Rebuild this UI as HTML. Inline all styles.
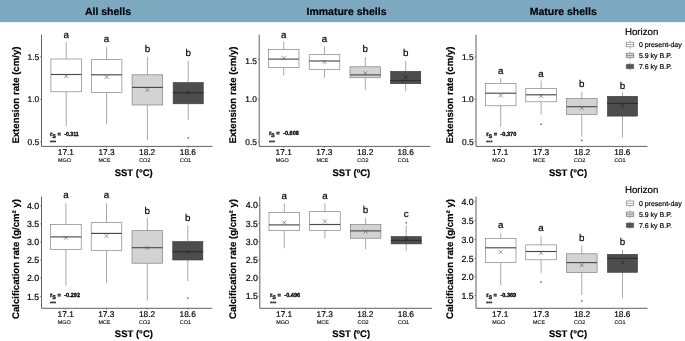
<!DOCTYPE html>
<html lang="en"><head><meta charset="utf-8"><title>Figure</title>
<style>html,body{margin:0;padding:0;background:#fff;}body{width:685px;height:341px;overflow:hidden;font-family:"Liberation Sans", sans-serif;}svg{display:block;will-change:transform;}text{font-family:"Liberation Sans", sans-serif;text-rendering:geometricPrecision;stroke:#000;stroke-width:0.18px;fill:#000;}text.t{stroke-width:0.1px;}text.u{stroke-width:0.3px;}</style>
</head><body>
<svg width="685" height="341" viewBox="0 0 685 341">
<rect x="0" y="0" width="685" height="341" fill="#ffffff"/>
<rect x="0" y="0" width="685" height="22.2" fill="#7ca8c0"/>
<text x="108.0" y="14.5" font-size="10.5" font-weight="bold" text-anchor="middle" fill="#000" stroke="#000" stroke-width="0.15">All shells</text>
<text x="346.5" y="14.5" font-size="10.5" font-weight="bold" text-anchor="middle" fill="#000" stroke="#000" stroke-width="0.15">Immature shells</text>
<text x="563.2" y="14.5" font-size="10.5" font-weight="bold" text-anchor="middle" fill="#000" stroke="#000" stroke-width="0.15">Mature shells</text>
<line x1="66.20" y1="41.80" x2="66.20" y2="58.70" stroke="#707070" stroke-width="0.6" transform="translate(0 0.30)"/>
<line x1="66.20" y1="91.50" x2="66.20" y2="125.80" stroke="#707070" stroke-width="0.6" transform="translate(0 0.30)"/>
<rect x="50.90" y="58.70" width="30.60" height="32.80" fill="#ffffff" stroke="#707070" stroke-width="0.6" transform="translate(0 0.30)"/>
<line x1="50.90" y1="74.20" x2="81.50" y2="74.20" stroke="#4a4a4a" stroke-width="1.15" transform="translate(0 0.30)"/>
<path class="x" d="M64.20 74.10L68.20 78.10M64.20 78.10L68.20 74.10" stroke="#555" stroke-width="0.6" fill="none"/>
<text x="66.20" y="37.90" font-size="9.8" text-anchor="middle" fill="#000">a</text>
<line x1="106.60" y1="46.40" x2="106.60" y2="59.40" stroke="#707070" stroke-width="0.6" transform="translate(0 0.30)"/>
<line x1="106.60" y1="92.10" x2="106.60" y2="123.90" stroke="#707070" stroke-width="0.6" transform="translate(0 0.30)"/>
<rect x="91.30" y="59.40" width="30.60" height="32.70" fill="#ffffff" stroke="#707070" stroke-width="0.6" transform="translate(0 0.30)"/>
<line x1="91.30" y1="74.50" x2="121.90" y2="74.50" stroke="#4a4a4a" stroke-width="1.15" transform="translate(0 0.30)"/>
<path class="x" d="M104.60 75.10L108.60 79.10M104.60 79.10L108.60 75.10" stroke="#555" stroke-width="0.6" fill="none"/>
<text x="106.60" y="42.30" font-size="9.8" text-anchor="middle" fill="#000">a</text>
<line x1="147.40" y1="56.50" x2="147.40" y2="74.50" stroke="#707070" stroke-width="0.6" transform="translate(0 0.30)"/>
<line x1="147.40" y1="104.70" x2="147.40" y2="140.00" stroke="#707070" stroke-width="0.6" transform="translate(0 0.30)"/>
<rect x="132.10" y="74.50" width="30.60" height="30.20" fill="#d3d3d3" stroke="#707070" stroke-width="0.6" transform="translate(0 0.30)"/>
<line x1="132.10" y1="87.10" x2="162.70" y2="87.10" stroke="#4a4a4a" stroke-width="1.15" transform="translate(0 0.30)"/>
<path class="x" d="M145.40 87.90L149.40 91.90M145.40 91.90L149.40 87.90" stroke="#555" stroke-width="0.6" fill="none"/>
<text x="147.40" y="51.90" font-size="9.8" text-anchor="middle" fill="#000">b</text>
<line x1="188.20" y1="60.70" x2="188.20" y2="82.20" stroke="#707070" stroke-width="0.6" transform="translate(0 0.30)"/>
<line x1="188.20" y1="103.50" x2="188.20" y2="119.80" stroke="#707070" stroke-width="0.6" transform="translate(0 0.30)"/>
<rect x="173.15" y="82.20" width="30.10" height="21.30" fill="#4d4d4d" stroke="#3a3a3a" stroke-width="0.6" transform="translate(0 0.30)"/>
<line x1="172.90" y1="92.40" x2="203.50" y2="92.40" stroke="#2e2e2e" stroke-width="1.15" transform="translate(0 0.30)"/>
<path class="x" d="M186.20 90.40L190.20 94.40M186.20 94.40L190.20 90.40" stroke="#222" stroke-width="0.6" fill="none"/>
<rect x="187.50" y="137.00" width="1.4" height="1.4" fill="#555" transform="translate(0 0.30)"/>
<text x="188.20" y="56.00" font-size="9.8" text-anchor="middle" fill="#000">b</text>
<path d="M41.50 34.50L41.50 146.10L212.60 146.10" stroke="#383838" stroke-width="0.8" fill="none" transform="translate(0 0.30)"/>
<line x1="40.10" y1="56.50" x2="41.50" y2="56.50" stroke="#444" stroke-width="0.6" transform="translate(0 0.30)"/>
<text x="39.20" y="59.90" font-size="8.4" text-anchor="end" fill="#1a1a1a">1.5</text>
<line x1="40.10" y1="99.00" x2="41.50" y2="99.00" stroke="#444" stroke-width="0.6" transform="translate(0 0.30)"/>
<text x="39.20" y="102.40" font-size="8.4" text-anchor="end" fill="#1a1a1a">1.0</text>
<line x1="40.10" y1="141.50" x2="41.50" y2="141.50" stroke="#444" stroke-width="0.6" transform="translate(0 0.30)"/>
<text x="39.20" y="144.90" font-size="8.4" text-anchor="end" fill="#1a1a1a">0.5</text>
<line x1="66.20" y1="146.10" x2="66.20" y2="147.50" stroke="#444" stroke-width="0.6" transform="translate(0 0.30)"/>
<text x="65.90" y="155.00" font-size="8.3" text-anchor="middle" fill="#1a1a1a">17.1</text>
<text class="t" x="58.00" y="161.80" font-size="5.4" text-anchor="start" fill="#1a1a1a">MGO</text>
<line x1="106.60" y1="146.10" x2="106.60" y2="147.50" stroke="#444" stroke-width="0.6" transform="translate(0 0.30)"/>
<text x="106.50" y="155.00" font-size="8.3" text-anchor="middle" fill="#1a1a1a">17.3</text>
<text class="t" x="98.60" y="161.80" font-size="5.4" text-anchor="start" fill="#1a1a1a">MCE</text>
<line x1="147.40" y1="146.10" x2="147.40" y2="147.50" stroke="#444" stroke-width="0.6" transform="translate(0 0.30)"/>
<text x="147.10" y="155.00" font-size="8.3" text-anchor="middle" fill="#1a1a1a">18.2</text>
<text class="t" x="139.20" y="161.80" font-size="5.4" text-anchor="start" fill="#1a1a1a">CO2</text>
<line x1="188.20" y1="146.10" x2="188.20" y2="147.50" stroke="#444" stroke-width="0.6" transform="translate(0 0.30)"/>
<text x="187.90" y="155.00" font-size="8.3" text-anchor="middle" fill="#1a1a1a">18.6</text>
<text class="t" x="180.00" y="161.80" font-size="5.4" text-anchor="start" fill="#1a1a1a">CO1</text>
<text transform="translate(18.65 95.10) rotate(-90)" font-size="9.6" font-weight="bold" text-anchor="middle" fill="#000">Extension rate (cm/y)</text>
<text x="133.70" y="175.90" font-size="9.5" font-weight="bold" text-anchor="middle" fill="#000">SST (°C)</text>
<text class="u" x="50.00" y="135.70" font-size="6.0" font-weight="bold">r</text>
<text class="u" x="52.20" y="137.80" font-size="5.4" font-weight="bold">S</text>
<text class="u" x="57.40" y="136.20" font-size="5.8" font-weight="bold">=</text>
<text class="u" x="64.20" y="135.80" font-size="6.0" font-weight="bold" textLength="14.6" lengthAdjust="spacingAndGlyphs">-0.311</text>
<text class="t" x="50.05" y="143.80" font-size="5.2" font-weight="bold" textLength="6.1" lengthAdjust="spacingAndGlyphs">***</text>
<line x1="283.70" y1="41.40" x2="283.70" y2="49.10" stroke="#707070" stroke-width="0.6" transform="translate(0 0.30)"/>
<line x1="283.70" y1="67.10" x2="283.70" y2="75.10" stroke="#707070" stroke-width="0.6" transform="translate(0 0.30)"/>
<rect x="268.40" y="49.10" width="30.60" height="18.00" fill="#ffffff" stroke="#707070" stroke-width="0.6" transform="translate(0 0.30)"/>
<line x1="268.40" y1="58.80" x2="299.00" y2="58.80" stroke="#4a4a4a" stroke-width="1.15" transform="translate(0 0.30)"/>
<path class="x" d="M281.70 56.00L285.70 60.00M281.70 60.00L285.70 56.00" stroke="#555" stroke-width="0.6" fill="none"/>
<text x="283.70" y="37.60" font-size="9.8" text-anchor="middle" fill="#000">a</text>
<line x1="324.50" y1="46.10" x2="324.50" y2="54.40" stroke="#707070" stroke-width="0.6" transform="translate(0 0.30)"/>
<line x1="324.50" y1="69.30" x2="324.50" y2="77.40" stroke="#707070" stroke-width="0.6" transform="translate(0 0.30)"/>
<rect x="309.20" y="54.40" width="30.60" height="14.90" fill="#ffffff" stroke="#707070" stroke-width="0.6" transform="translate(0 0.30)"/>
<line x1="309.20" y1="60.70" x2="339.80" y2="60.70" stroke="#4a4a4a" stroke-width="1.15" transform="translate(0 0.30)"/>
<path class="x" d="M322.50 60.00L326.50 64.00M322.50 64.00L326.50 60.00" stroke="#555" stroke-width="0.6" fill="none"/>
<text x="324.50" y="42.20" font-size="9.8" text-anchor="middle" fill="#000">a</text>
<line x1="365.30" y1="56.70" x2="365.30" y2="66.50" stroke="#707070" stroke-width="0.6" transform="translate(0 0.30)"/>
<line x1="365.30" y1="77.50" x2="365.30" y2="89.60" stroke="#707070" stroke-width="0.6" transform="translate(0 0.30)"/>
<rect x="350.00" y="66.50" width="30.60" height="11.00" fill="#d3d3d3" stroke="#707070" stroke-width="0.6" transform="translate(0 0.30)"/>
<line x1="350.00" y1="74.60" x2="380.60" y2="74.60" stroke="#4a4a4a" stroke-width="1.15" transform="translate(0 0.30)"/>
<path class="x" d="M363.30 71.20L367.30 75.20M363.30 75.20L367.30 71.20" stroke="#555" stroke-width="0.6" fill="none"/>
<text x="365.30" y="51.90" font-size="9.8" text-anchor="middle" fill="#000">b</text>
<line x1="405.70" y1="60.50" x2="405.70" y2="71.00" stroke="#707070" stroke-width="0.6" transform="translate(0 0.30)"/>
<line x1="405.70" y1="83.40" x2="405.70" y2="91.00" stroke="#707070" stroke-width="0.6" transform="translate(0 0.30)"/>
<rect x="390.65" y="71.00" width="30.10" height="12.40" fill="#4d4d4d" stroke="#3a3a3a" stroke-width="0.6" transform="translate(0 0.30)"/>
<line x1="390.40" y1="80.20" x2="421.00" y2="80.20" stroke="#2e2e2e" stroke-width="1.15" transform="translate(0 0.30)"/>
<path class="x" d="M403.70 75.30L407.70 79.30M403.70 79.30L407.70 75.30" stroke="#222" stroke-width="0.6" fill="none"/>
<text x="405.70" y="56.10" font-size="9.8" text-anchor="middle" fill="#000">b</text>
<path d="M259.20 34.50L259.20 146.10L430.40 146.10" stroke="#383838" stroke-width="0.8" fill="none" transform="translate(0 0.30)"/>
<line x1="257.80" y1="59.00" x2="259.20" y2="59.00" stroke="#444" stroke-width="0.6" transform="translate(0 0.30)"/>
<text x="256.90" y="63.60" font-size="8.4" text-anchor="end" fill="#1a1a1a">1.5</text>
<line x1="257.80" y1="99.00" x2="259.20" y2="99.00" stroke="#444" stroke-width="0.6" transform="translate(0 0.30)"/>
<text x="256.90" y="102.40" font-size="8.4" text-anchor="end" fill="#1a1a1a">1.0</text>
<line x1="257.80" y1="141.50" x2="259.20" y2="141.50" stroke="#444" stroke-width="0.6" transform="translate(0 0.30)"/>
<text x="256.90" y="144.90" font-size="8.4" text-anchor="end" fill="#1a1a1a">0.5</text>
<line x1="283.70" y1="146.10" x2="283.70" y2="147.50" stroke="#444" stroke-width="0.6" transform="translate(0 0.30)"/>
<text x="283.70" y="155.00" font-size="8.3" text-anchor="middle" fill="#1a1a1a">17.1</text>
<text class="t" x="275.80" y="161.80" font-size="5.4" text-anchor="start" fill="#1a1a1a">MGO</text>
<line x1="324.50" y1="146.10" x2="324.50" y2="147.50" stroke="#444" stroke-width="0.6" transform="translate(0 0.30)"/>
<text x="324.30" y="155.00" font-size="8.3" text-anchor="middle" fill="#1a1a1a">17.3</text>
<text class="t" x="316.40" y="161.80" font-size="5.4" text-anchor="start" fill="#1a1a1a">MCE</text>
<line x1="365.30" y1="146.10" x2="365.30" y2="147.50" stroke="#444" stroke-width="0.6" transform="translate(0 0.30)"/>
<text x="365.20" y="155.00" font-size="8.3" text-anchor="middle" fill="#1a1a1a">18.2</text>
<text class="t" x="357.30" y="161.80" font-size="5.4" text-anchor="start" fill="#1a1a1a">CO2</text>
<line x1="405.70" y1="146.10" x2="405.70" y2="147.50" stroke="#444" stroke-width="0.6" transform="translate(0 0.30)"/>
<text x="405.70" y="155.00" font-size="8.3" text-anchor="middle" fill="#1a1a1a">18.6</text>
<text class="t" x="397.80" y="161.80" font-size="5.4" text-anchor="start" fill="#1a1a1a">CO1</text>
<text transform="translate(236.45 95.10) rotate(-90)" font-size="9.6" font-weight="bold" text-anchor="middle" fill="#000">Extension rate (cm/y)</text>
<text x="351.40" y="175.90" font-size="9.5" font-weight="bold" text-anchor="middle" fill="#000">SST (ºC)</text>
<text class="u" x="268.90" y="134.80" font-size="6.0" font-weight="bold">r</text>
<text class="u" x="271.10" y="136.90" font-size="5.4" font-weight="bold">S</text>
<text class="u" x="276.30" y="135.30" font-size="5.8" font-weight="bold">=</text>
<text class="u" x="283.10" y="134.90" font-size="6.0" font-weight="bold" textLength="15.8" lengthAdjust="spacingAndGlyphs">-0.608</text>
<text class="t" x="268.95" y="143.80" font-size="5.2" font-weight="bold" textLength="6.1" lengthAdjust="spacingAndGlyphs">***</text>
<line x1="500.70" y1="77.90" x2="500.70" y2="83.10" stroke="#707070" stroke-width="0.6" transform="translate(0 0.30)"/>
<line x1="500.70" y1="105.50" x2="500.70" y2="126.50" stroke="#707070" stroke-width="0.6" transform="translate(0 0.30)"/>
<rect x="485.40" y="83.10" width="30.60" height="22.40" fill="#ffffff" stroke="#707070" stroke-width="0.6" transform="translate(0 0.30)"/>
<line x1="485.40" y1="92.90" x2="516.00" y2="92.90" stroke="#4a4a4a" stroke-width="1.15" transform="translate(0 0.30)"/>
<path class="x" d="M498.70 93.50L502.70 97.50M498.70 97.50L502.70 93.50" stroke="#555" stroke-width="0.6" fill="none"/>
<text x="500.70" y="73.70" font-size="9.8" text-anchor="middle" fill="#000">a</text>
<line x1="541.10" y1="80.30" x2="541.10" y2="88.10" stroke="#707070" stroke-width="0.6" transform="translate(0 0.30)"/>
<line x1="541.10" y1="101.50" x2="541.10" y2="114.50" stroke="#707070" stroke-width="0.6" transform="translate(0 0.30)"/>
<rect x="525.80" y="88.10" width="30.60" height="13.40" fill="#ffffff" stroke="#707070" stroke-width="0.6" transform="translate(0 0.30)"/>
<line x1="525.80" y1="94.50" x2="556.40" y2="94.50" stroke="#4a4a4a" stroke-width="1.15" transform="translate(0 0.30)"/>
<path class="x" d="M539.10 94.00L543.10 98.00M539.10 98.00L543.10 94.00" stroke="#555" stroke-width="0.6" fill="none"/>
<rect x="540.40" y="123.30" width="1.4" height="1.4" fill="#555" transform="translate(0 0.30)"/>
<text x="541.10" y="76.70" font-size="9.8" text-anchor="middle" fill="#000">a</text>
<line x1="581.80" y1="91.50" x2="581.80" y2="98.20" stroke="#707070" stroke-width="0.6" transform="translate(0 0.30)"/>
<line x1="581.80" y1="114.00" x2="581.80" y2="136.30" stroke="#707070" stroke-width="0.6" transform="translate(0 0.30)"/>
<rect x="566.50" y="98.20" width="30.60" height="15.80" fill="#d3d3d3" stroke="#707070" stroke-width="0.6" transform="translate(0 0.30)"/>
<line x1="566.50" y1="106.40" x2="597.10" y2="106.40" stroke="#4a4a4a" stroke-width="1.15" transform="translate(0 0.30)"/>
<path class="x" d="M579.80 105.80L583.80 109.80M579.80 109.80L583.80 105.80" stroke="#555" stroke-width="0.6" fill="none"/>
<rect x="581.10" y="139.40" width="1.4" height="1.4" fill="#555" transform="translate(0 0.30)"/>
<text x="581.80" y="86.70" font-size="9.8" text-anchor="middle" fill="#000">b</text>
<line x1="622.50" y1="92.00" x2="622.50" y2="96.00" stroke="#707070" stroke-width="0.6" transform="translate(0 0.30)"/>
<line x1="622.50" y1="115.80" x2="622.50" y2="137.30" stroke="#707070" stroke-width="0.6" transform="translate(0 0.30)"/>
<rect x="607.45" y="96.00" width="30.10" height="19.80" fill="#4d4d4d" stroke="#3a3a3a" stroke-width="0.6" transform="translate(0 0.30)"/>
<line x1="607.20" y1="103.10" x2="637.80" y2="103.10" stroke="#2e2e2e" stroke-width="1.15" transform="translate(0 0.30)"/>
<path class="x" d="M620.50 103.70L624.50 107.70M620.50 107.70L624.50 103.70" stroke="#222" stroke-width="0.6" fill="none"/>
<text x="622.50" y="88.50" font-size="9.8" text-anchor="middle" fill="#000">b</text>
<path d="M476.00 34.50L476.00 146.10L647.50 146.10" stroke="#383838" stroke-width="0.8" fill="none" transform="translate(0 0.30)"/>
<line x1="474.60" y1="56.70" x2="476.00" y2="56.70" stroke="#444" stroke-width="0.6" transform="translate(0 0.30)"/>
<text x="473.70" y="60.10" font-size="8.4" text-anchor="end" fill="#1a1a1a">1.5</text>
<line x1="474.60" y1="99.00" x2="476.00" y2="99.00" stroke="#444" stroke-width="0.6" transform="translate(0 0.30)"/>
<text x="473.70" y="102.40" font-size="8.4" text-anchor="end" fill="#1a1a1a">1.0</text>
<line x1="474.60" y1="141.50" x2="476.00" y2="141.50" stroke="#444" stroke-width="0.6" transform="translate(0 0.30)"/>
<text x="473.70" y="144.90" font-size="8.4" text-anchor="end" fill="#1a1a1a">0.5</text>
<line x1="500.70" y1="146.10" x2="500.70" y2="147.50" stroke="#444" stroke-width="0.6" transform="translate(0 0.30)"/>
<text x="500.20" y="155.00" font-size="8.3" text-anchor="middle" fill="#1a1a1a">17.1</text>
<text class="t" x="492.30" y="161.80" font-size="5.4" text-anchor="start" fill="#1a1a1a">MGO</text>
<line x1="541.10" y1="146.10" x2="541.10" y2="147.50" stroke="#444" stroke-width="0.6" transform="translate(0 0.30)"/>
<text x="541.00" y="155.00" font-size="8.3" text-anchor="middle" fill="#1a1a1a">17.3</text>
<text class="t" x="533.10" y="161.80" font-size="5.4" text-anchor="start" fill="#1a1a1a">MCE</text>
<line x1="581.80" y1="146.10" x2="581.80" y2="147.50" stroke="#444" stroke-width="0.6" transform="translate(0 0.30)"/>
<text x="582.00" y="155.00" font-size="8.3" text-anchor="middle" fill="#1a1a1a">18.2</text>
<text class="t" x="574.10" y="161.80" font-size="5.4" text-anchor="start" fill="#1a1a1a">CO2</text>
<line x1="622.50" y1="146.10" x2="622.50" y2="147.50" stroke="#444" stroke-width="0.6" transform="translate(0 0.30)"/>
<text x="622.30" y="155.00" font-size="8.3" text-anchor="middle" fill="#1a1a1a">18.6</text>
<text class="t" x="614.40" y="161.80" font-size="5.4" text-anchor="start" fill="#1a1a1a">CO1</text>
<text transform="translate(453.45 95.10) rotate(-90)" font-size="9.6" font-weight="bold" text-anchor="middle" fill="#000">Extension rate (cm/y)</text>
<text x="568.00" y="175.90" font-size="9.5" font-weight="bold" text-anchor="middle" fill="#000">SST (°C)</text>
<text class="u" x="486.30" y="135.70" font-size="6.0" font-weight="bold">r</text>
<text class="u" x="488.50" y="137.80" font-size="5.4" font-weight="bold">S</text>
<text class="u" x="493.70" y="136.20" font-size="5.8" font-weight="bold">=</text>
<text class="u" x="500.50" y="135.80" font-size="6.0" font-weight="bold" textLength="15.8" lengthAdjust="spacingAndGlyphs">-0.370</text>
<text class="t" x="486.35" y="143.80" font-size="5.2" font-weight="bold" textLength="6.1" lengthAdjust="spacingAndGlyphs">***</text>
<line x1="65.90" y1="203.10" x2="65.90" y2="224.20" stroke="#707070" stroke-width="0.6" transform="translate(0 0.30)"/>
<line x1="65.90" y1="249.30" x2="65.90" y2="285.40" stroke="#707070" stroke-width="0.6" transform="translate(0 0.30)"/>
<rect x="50.60" y="224.20" width="30.60" height="25.10" fill="#ffffff" stroke="#707070" stroke-width="0.6" transform="translate(0 0.30)"/>
<line x1="50.60" y1="236.60" x2="81.20" y2="236.60" stroke="#4a4a4a" stroke-width="1.15" transform="translate(0 0.30)"/>
<path class="x" d="M63.90 235.80L67.90 239.80M63.90 239.80L67.90 235.80" stroke="#555" stroke-width="0.6" fill="none"/>
<text x="65.90" y="197.80" font-size="9.8" text-anchor="middle" fill="#000">a</text>
<line x1="106.50" y1="203.10" x2="106.50" y2="222.40" stroke="#707070" stroke-width="0.6" transform="translate(0 0.30)"/>
<line x1="106.50" y1="250.20" x2="106.50" y2="282.80" stroke="#707070" stroke-width="0.6" transform="translate(0 0.30)"/>
<rect x="91.20" y="222.40" width="30.60" height="27.80" fill="#ffffff" stroke="#707070" stroke-width="0.6" transform="translate(0 0.30)"/>
<line x1="91.20" y1="233.10" x2="121.80" y2="233.10" stroke="#4a4a4a" stroke-width="1.15" transform="translate(0 0.30)"/>
<path class="x" d="M104.50 234.00L108.50 238.00M104.50 238.00L108.50 234.00" stroke="#555" stroke-width="0.6" fill="none"/>
<text x="106.50" y="197.80" font-size="9.8" text-anchor="middle" fill="#000">a</text>
<line x1="147.30" y1="217.60" x2="147.30" y2="230.40" stroke="#707070" stroke-width="0.6" transform="translate(0 0.30)"/>
<line x1="147.30" y1="262.90" x2="147.30" y2="300.40" stroke="#707070" stroke-width="0.6" transform="translate(0 0.30)"/>
<rect x="132.00" y="230.40" width="30.60" height="32.50" fill="#d3d3d3" stroke="#707070" stroke-width="0.6" transform="translate(0 0.30)"/>
<line x1="132.00" y1="247.40" x2="162.60" y2="247.40" stroke="#4a4a4a" stroke-width="1.15" transform="translate(0 0.30)"/>
<path class="x" d="M145.30 245.90L149.30 249.90M145.30 249.90L149.30 245.90" stroke="#555" stroke-width="0.6" fill="none"/>
<text x="147.30" y="213.50" font-size="9.8" text-anchor="middle" fill="#000">b</text>
<line x1="187.80" y1="225.10" x2="187.80" y2="241.20" stroke="#707070" stroke-width="0.6" transform="translate(0 0.30)"/>
<line x1="187.80" y1="259.70" x2="187.80" y2="280.80" stroke="#707070" stroke-width="0.6" transform="translate(0 0.30)"/>
<rect x="172.75" y="241.20" width="30.10" height="18.50" fill="#4d4d4d" stroke="#3a3a3a" stroke-width="0.6" transform="translate(0 0.30)"/>
<line x1="172.50" y1="251.40" x2="203.10" y2="251.40" stroke="#2e2e2e" stroke-width="1.15" transform="translate(0 0.30)"/>
<path class="x" d="M185.80 250.30L189.80 254.30M185.80 254.30L189.80 250.30" stroke="#222" stroke-width="0.6" fill="none"/>
<rect x="187.10" y="297.10" width="1.4" height="1.4" fill="#555" transform="translate(0 0.30)"/>
<text x="187.80" y="221.10" font-size="9.8" text-anchor="middle" fill="#000">b</text>
<path d="M41.50 196.40L41.50 308.00L212.20 308.00" stroke="#383838" stroke-width="0.8" fill="none" transform="translate(0 0.30)"/>
<line x1="40.10" y1="205.60" x2="41.50" y2="205.60" stroke="#444" stroke-width="0.6" transform="translate(0 0.30)"/>
<text x="39.20" y="209.00" font-size="8.8" text-anchor="end" fill="#1a1a1a">4.0</text>
<line x1="40.10" y1="223.60" x2="41.50" y2="223.60" stroke="#444" stroke-width="0.6" transform="translate(0 0.30)"/>
<text x="39.20" y="227.00" font-size="8.8" text-anchor="end" fill="#1a1a1a">3.5</text>
<line x1="40.10" y1="241.60" x2="41.50" y2="241.60" stroke="#444" stroke-width="0.6" transform="translate(0 0.30)"/>
<text x="39.20" y="245.00" font-size="8.8" text-anchor="end" fill="#1a1a1a">3.0</text>
<line x1="40.10" y1="259.80" x2="41.50" y2="259.80" stroke="#444" stroke-width="0.6" transform="translate(0 0.30)"/>
<text x="39.20" y="263.20" font-size="8.8" text-anchor="end" fill="#1a1a1a">2.5</text>
<line x1="40.10" y1="277.80" x2="41.50" y2="277.80" stroke="#444" stroke-width="0.6" transform="translate(0 0.30)"/>
<text x="39.20" y="281.20" font-size="8.8" text-anchor="end" fill="#1a1a1a">2.0</text>
<line x1="40.10" y1="296.30" x2="41.50" y2="296.30" stroke="#444" stroke-width="0.6" transform="translate(0 0.30)"/>
<text x="39.20" y="299.70" font-size="8.8" text-anchor="end" fill="#1a1a1a">1.5</text>
<line x1="65.90" y1="308.00" x2="65.90" y2="309.40" stroke="#444" stroke-width="0.6" transform="translate(0 0.30)"/>
<text x="65.70" y="317.00" font-size="8.3" text-anchor="middle" fill="#1a1a1a">17.1</text>
<text class="t" x="57.80" y="323.90" font-size="5.4" text-anchor="start" fill="#1a1a1a">MGO</text>
<line x1="106.50" y1="308.00" x2="106.50" y2="309.40" stroke="#444" stroke-width="0.6" transform="translate(0 0.30)"/>
<text x="106.30" y="317.00" font-size="8.3" text-anchor="middle" fill="#1a1a1a">17.3</text>
<text class="t" x="98.40" y="323.90" font-size="5.4" text-anchor="start" fill="#1a1a1a">MCE</text>
<line x1="147.30" y1="308.00" x2="147.30" y2="309.40" stroke="#444" stroke-width="0.6" transform="translate(0 0.30)"/>
<text x="147.00" y="317.00" font-size="8.3" text-anchor="middle" fill="#1a1a1a">18.2</text>
<text class="t" x="139.10" y="323.90" font-size="5.4" text-anchor="start" fill="#1a1a1a">CO2</text>
<line x1="187.80" y1="308.00" x2="187.80" y2="309.40" stroke="#444" stroke-width="0.6" transform="translate(0 0.30)"/>
<text x="187.70" y="317.00" font-size="8.3" text-anchor="middle" fill="#1a1a1a">18.6</text>
<text class="t" x="179.80" y="323.90" font-size="5.4" text-anchor="start" fill="#1a1a1a">CO1</text>
<text transform="translate(18.65 259.00) rotate(-90)" font-size="9.6" font-weight="bold" text-anchor="middle" fill="#000">Calcification rate (g/cm² y)</text>
<text x="133.90" y="337.00" font-size="9.5" font-weight="bold" text-anchor="middle" fill="#000">SST (°C)</text>
<text class="u" x="50.00" y="296.80" font-size="6.0" font-weight="bold">r</text>
<text class="u" x="52.20" y="298.90" font-size="5.4" font-weight="bold">S</text>
<text class="u" x="57.40" y="297.30" font-size="5.8" font-weight="bold">=</text>
<text class="u" x="64.20" y="296.90" font-size="6.0" font-weight="bold" textLength="15.8" lengthAdjust="spacingAndGlyphs">-0.292</text>
<text class="t" x="50.05" y="305.20" font-size="5.2" font-weight="bold" textLength="6.1" lengthAdjust="spacingAndGlyphs">***</text>
<line x1="284.30" y1="203.10" x2="284.30" y2="212.30" stroke="#707070" stroke-width="0.6" transform="translate(0 0.30)"/>
<line x1="284.30" y1="230.40" x2="284.30" y2="247.90" stroke="#707070" stroke-width="0.6" transform="translate(0 0.30)"/>
<rect x="269.00" y="212.30" width="30.60" height="18.10" fill="#ffffff" stroke="#707070" stroke-width="0.6" transform="translate(0 0.30)"/>
<line x1="269.00" y1="224.60" x2="299.60" y2="224.60" stroke="#4a4a4a" stroke-width="1.15" transform="translate(0 0.30)"/>
<path class="x" d="M282.30 220.50L286.30 224.50M282.30 224.50L286.30 220.50" stroke="#555" stroke-width="0.6" fill="none"/>
<text x="284.30" y="198.50" font-size="9.8" text-anchor="middle" fill="#000">a</text>
<line x1="324.90" y1="203.10" x2="324.90" y2="211.40" stroke="#707070" stroke-width="0.6" transform="translate(0 0.30)"/>
<line x1="324.90" y1="230.00" x2="324.90" y2="238.00" stroke="#707070" stroke-width="0.6" transform="translate(0 0.30)"/>
<rect x="309.60" y="211.40" width="30.60" height="18.60" fill="#ffffff" stroke="#707070" stroke-width="0.6" transform="translate(0 0.30)"/>
<line x1="309.60" y1="224.20" x2="340.20" y2="224.20" stroke="#4a4a4a" stroke-width="1.15" transform="translate(0 0.30)"/>
<path class="x" d="M322.90 219.40L326.90 223.40M322.90 223.40L326.90 219.40" stroke="#555" stroke-width="0.6" fill="none"/>
<text x="324.90" y="198.50" font-size="9.8" text-anchor="middle" fill="#000">a</text>
<line x1="365.60" y1="217.60" x2="365.60" y2="224.20" stroke="#707070" stroke-width="0.6" transform="translate(0 0.30)"/>
<line x1="365.60" y1="237.90" x2="365.60" y2="248.90" stroke="#707070" stroke-width="0.6" transform="translate(0 0.30)"/>
<rect x="350.30" y="224.20" width="30.60" height="13.70" fill="#d3d3d3" stroke="#707070" stroke-width="0.6" transform="translate(0 0.30)"/>
<line x1="350.30" y1="230.60" x2="380.90" y2="230.60" stroke="#4a4a4a" stroke-width="1.15" transform="translate(0 0.30)"/>
<path class="x" d="M363.60 229.60L367.60 233.60M363.60 233.60L367.60 229.60" stroke="#555" stroke-width="0.6" fill="none"/>
<text x="365.60" y="213.20" font-size="9.8" text-anchor="middle" fill="#000">b</text>
<line x1="406.20" y1="225.10" x2="406.20" y2="236.20" stroke="#707070" stroke-width="0.6" transform="translate(0 0.30)"/>
<line x1="406.20" y1="243.60" x2="406.20" y2="250.80" stroke="#707070" stroke-width="0.6" transform="translate(0 0.30)"/>
<rect x="391.15" y="236.20" width="30.10" height="7.40" fill="#4d4d4d" stroke="#3a3a3a" stroke-width="0.6" transform="translate(0 0.30)"/>
<line x1="390.90" y1="240.10" x2="421.50" y2="240.10" stroke="#2e2e2e" stroke-width="1.15" transform="translate(0 0.30)"/>
<path class="x" d="M404.20 236.70L408.20 240.70M404.20 240.70L408.20 236.70" stroke="#222" stroke-width="0.6" fill="none"/>
<rect x="405.50" y="221.80" width="1.4" height="1.4" fill="#555" transform="translate(0 0.30)"/>
<text x="406.20" y="217.00" font-size="9.8" text-anchor="middle" fill="#000">c</text>
<path d="M259.80 196.40L259.80 308.00L432.00 308.00" stroke="#383838" stroke-width="0.8" fill="none" transform="translate(0 0.30)"/>
<line x1="258.40" y1="205.00" x2="259.80" y2="205.00" stroke="#444" stroke-width="0.6" transform="translate(0 0.30)"/>
<text x="257.90" y="208.40" font-size="8.8" text-anchor="end" fill="#1a1a1a">4.0</text>
<line x1="258.40" y1="223.10" x2="259.80" y2="223.10" stroke="#444" stroke-width="0.6" transform="translate(0 0.30)"/>
<text x="257.90" y="226.50" font-size="8.8" text-anchor="end" fill="#1a1a1a">3.5</text>
<line x1="258.40" y1="241.20" x2="259.80" y2="241.20" stroke="#444" stroke-width="0.6" transform="translate(0 0.30)"/>
<text x="257.90" y="244.60" font-size="8.8" text-anchor="end" fill="#1a1a1a">3.0</text>
<line x1="258.40" y1="259.40" x2="259.80" y2="259.40" stroke="#444" stroke-width="0.6" transform="translate(0 0.30)"/>
<text x="257.90" y="262.80" font-size="8.8" text-anchor="end" fill="#1a1a1a">2.5</text>
<line x1="258.40" y1="277.40" x2="259.80" y2="277.40" stroke="#444" stroke-width="0.6" transform="translate(0 0.30)"/>
<text x="257.90" y="280.80" font-size="8.8" text-anchor="end" fill="#1a1a1a">2.0</text>
<line x1="258.40" y1="295.90" x2="259.80" y2="295.90" stroke="#444" stroke-width="0.6" transform="translate(0 0.30)"/>
<text x="257.90" y="299.30" font-size="8.8" text-anchor="end" fill="#1a1a1a">1.5</text>
<line x1="284.30" y1="308.00" x2="284.30" y2="309.40" stroke="#444" stroke-width="0.6" transform="translate(0 0.30)"/>
<text x="284.10" y="317.00" font-size="8.3" text-anchor="middle" fill="#1a1a1a">17.1</text>
<text class="t" x="276.20" y="323.90" font-size="5.4" text-anchor="start" fill="#1a1a1a">MGO</text>
<line x1="324.90" y1="308.00" x2="324.90" y2="309.40" stroke="#444" stroke-width="0.6" transform="translate(0 0.30)"/>
<text x="324.70" y="317.00" font-size="8.3" text-anchor="middle" fill="#1a1a1a">17.3</text>
<text class="t" x="316.80" y="323.90" font-size="5.4" text-anchor="start" fill="#1a1a1a">MCE</text>
<line x1="365.60" y1="308.00" x2="365.60" y2="309.40" stroke="#444" stroke-width="0.6" transform="translate(0 0.30)"/>
<text x="365.40" y="317.00" font-size="8.3" text-anchor="middle" fill="#1a1a1a">18.2</text>
<text class="t" x="357.50" y="323.90" font-size="5.4" text-anchor="start" fill="#1a1a1a">CO2</text>
<line x1="406.20" y1="308.00" x2="406.20" y2="309.40" stroke="#444" stroke-width="0.6" transform="translate(0 0.30)"/>
<text x="405.90" y="317.00" font-size="8.3" text-anchor="middle" fill="#1a1a1a">18.6</text>
<text class="t" x="398.00" y="323.90" font-size="5.4" text-anchor="start" fill="#1a1a1a">CO1</text>
<text transform="translate(236.45 259.00) rotate(-90)" font-size="9.6" font-weight="bold" text-anchor="middle" fill="#000">Calcification rate (g/cm² y)</text>
<text x="351.20" y="337.00" font-size="9.5" font-weight="bold" text-anchor="middle" fill="#000">SST (ºC)</text>
<text class="u" x="270.10" y="296.80" font-size="6.0" font-weight="bold">r</text>
<text class="u" x="272.30" y="298.90" font-size="5.4" font-weight="bold">S</text>
<text class="u" x="277.50" y="297.30" font-size="5.8" font-weight="bold">=</text>
<text class="u" x="284.30" y="296.90" font-size="6.0" font-weight="bold" textLength="15.8" lengthAdjust="spacingAndGlyphs">-0.496</text>
<text class="t" x="270.15" y="305.20" font-size="5.2" font-weight="bold" textLength="6.1" lengthAdjust="spacingAndGlyphs">***</text>
<line x1="500.70" y1="232.60" x2="500.70" y2="238.20" stroke="#707070" stroke-width="0.6" transform="translate(0 0.30)"/>
<line x1="500.70" y1="262.30" x2="500.70" y2="285.00" stroke="#707070" stroke-width="0.6" transform="translate(0 0.30)"/>
<rect x="485.40" y="238.20" width="30.60" height="24.10" fill="#ffffff" stroke="#707070" stroke-width="0.6" transform="translate(0 0.30)"/>
<line x1="485.40" y1="247.50" x2="516.00" y2="247.50" stroke="#4a4a4a" stroke-width="1.15" transform="translate(0 0.30)"/>
<path class="x" d="M498.70 249.90L502.70 253.90M498.70 253.90L502.70 249.90" stroke="#555" stroke-width="0.6" fill="none"/>
<text x="500.70" y="227.80" font-size="9.8" text-anchor="middle" fill="#000">a</text>
<line x1="541.10" y1="236.10" x2="541.10" y2="244.60" stroke="#707070" stroke-width="0.6" transform="translate(0 0.30)"/>
<line x1="541.10" y1="259.50" x2="541.10" y2="272.50" stroke="#707070" stroke-width="0.6" transform="translate(0 0.30)"/>
<rect x="525.80" y="244.60" width="30.60" height="14.90" fill="#ffffff" stroke="#707070" stroke-width="0.6" transform="translate(0 0.30)"/>
<line x1="525.80" y1="251.20" x2="556.40" y2="251.20" stroke="#4a4a4a" stroke-width="1.15" transform="translate(0 0.30)"/>
<path class="x" d="M539.10 250.80L543.10 254.80M539.10 254.80L543.10 250.80" stroke="#555" stroke-width="0.6" fill="none"/>
<rect x="540.40" y="281.10" width="1.4" height="1.4" fill="#555" transform="translate(0 0.30)"/>
<text x="541.10" y="230.70" font-size="9.8" text-anchor="middle" fill="#000">a</text>
<line x1="581.80" y1="245.20" x2="581.80" y2="253.50" stroke="#707070" stroke-width="0.6" transform="translate(0 0.30)"/>
<line x1="581.80" y1="272.20" x2="581.80" y2="294.80" stroke="#707070" stroke-width="0.6" transform="translate(0 0.30)"/>
<rect x="566.50" y="253.50" width="30.60" height="18.70" fill="#d3d3d3" stroke="#707070" stroke-width="0.6" transform="translate(0 0.30)"/>
<line x1="566.50" y1="262.30" x2="597.10" y2="262.30" stroke="#4a4a4a" stroke-width="1.15" transform="translate(0 0.30)"/>
<path class="x" d="M579.80 263.30L583.80 267.30M579.80 267.30L583.80 263.30" stroke="#555" stroke-width="0.6" fill="none"/>
<rect x="581.10" y="300.00" width="1.4" height="1.4" fill="#555" transform="translate(0 0.30)"/>
<text x="581.80" y="240.50" font-size="9.8" text-anchor="middle" fill="#000">b</text>
<line x1="622.50" y1="249.30" x2="622.50" y2="254.00" stroke="#707070" stroke-width="0.6" transform="translate(0 0.30)"/>
<line x1="622.50" y1="272.00" x2="622.50" y2="297.60" stroke="#707070" stroke-width="0.6" transform="translate(0 0.30)"/>
<rect x="607.45" y="254.00" width="30.10" height="18.00" fill="#4d4d4d" stroke="#3a3a3a" stroke-width="0.6" transform="translate(0 0.30)"/>
<line x1="607.20" y1="258.10" x2="637.80" y2="258.10" stroke="#2e2e2e" stroke-width="1.15" transform="translate(0 0.30)"/>
<path class="x" d="M620.50 260.50L624.50 264.50M620.50 264.50L624.50 260.50" stroke="#222" stroke-width="0.6" fill="none"/>
<text x="622.50" y="244.90" font-size="9.8" text-anchor="middle" fill="#000">b</text>
<path d="M476.00 196.40L476.00 308.00L647.50 308.00" stroke="#383838" stroke-width="0.8" fill="none" transform="translate(0 0.30)"/>
<line x1="474.60" y1="201.00" x2="476.00" y2="201.00" stroke="#444" stroke-width="0.6" transform="translate(0 0.30)"/>
<text x="473.70" y="204.80" font-size="8.8" text-anchor="end" fill="#1a1a1a">4.0</text>
<line x1="474.60" y1="220.10" x2="476.00" y2="220.10" stroke="#444" stroke-width="0.6" transform="translate(0 0.30)"/>
<text x="473.70" y="223.90" font-size="8.8" text-anchor="end" fill="#1a1a1a">3.5</text>
<line x1="474.60" y1="239.00" x2="476.00" y2="239.00" stroke="#444" stroke-width="0.6" transform="translate(0 0.30)"/>
<text x="473.70" y="242.80" font-size="8.8" text-anchor="end" fill="#1a1a1a">3.0</text>
<line x1="474.60" y1="257.90" x2="476.00" y2="257.90" stroke="#444" stroke-width="0.6" transform="translate(0 0.30)"/>
<text x="473.70" y="261.70" font-size="8.8" text-anchor="end" fill="#1a1a1a">2.5</text>
<line x1="474.60" y1="276.50" x2="476.00" y2="276.50" stroke="#444" stroke-width="0.6" transform="translate(0 0.30)"/>
<text x="473.70" y="280.30" font-size="8.8" text-anchor="end" fill="#1a1a1a">2.0</text>
<line x1="474.60" y1="295.20" x2="476.00" y2="295.20" stroke="#444" stroke-width="0.6" transform="translate(0 0.30)"/>
<text x="473.70" y="299.00" font-size="8.8" text-anchor="end" fill="#1a1a1a">1.5</text>
<line x1="500.70" y1="308.00" x2="500.70" y2="309.40" stroke="#444" stroke-width="0.6" transform="translate(0 0.30)"/>
<text x="500.20" y="317.00" font-size="8.3" text-anchor="middle" fill="#1a1a1a">17.1</text>
<text class="t" x="492.30" y="323.90" font-size="5.4" text-anchor="start" fill="#1a1a1a">MGO</text>
<line x1="541.10" y1="308.00" x2="541.10" y2="309.40" stroke="#444" stroke-width="0.6" transform="translate(0 0.30)"/>
<text x="541.00" y="317.00" font-size="8.3" text-anchor="middle" fill="#1a1a1a">17.3</text>
<text class="t" x="533.10" y="323.90" font-size="5.4" text-anchor="start" fill="#1a1a1a">MCE</text>
<line x1="581.80" y1="308.00" x2="581.80" y2="309.40" stroke="#444" stroke-width="0.6" transform="translate(0 0.30)"/>
<text x="582.00" y="317.00" font-size="8.3" text-anchor="middle" fill="#1a1a1a">18.2</text>
<text class="t" x="574.10" y="323.90" font-size="5.4" text-anchor="start" fill="#1a1a1a">CO2</text>
<line x1="622.50" y1="308.00" x2="622.50" y2="309.40" stroke="#444" stroke-width="0.6" transform="translate(0 0.30)"/>
<text x="622.30" y="317.00" font-size="8.3" text-anchor="middle" fill="#1a1a1a">18.6</text>
<text class="t" x="614.40" y="323.90" font-size="5.4" text-anchor="start" fill="#1a1a1a">CO1</text>
<text transform="translate(453.45 259.00) rotate(-90)" font-size="9.6" font-weight="bold" text-anchor="middle" fill="#000">Calcification rate (g/cm² y)</text>
<text x="568.00" y="337.00" font-size="9.5" font-weight="bold" text-anchor="middle" fill="#000">SST (°C)</text>
<text class="u" x="486.20" y="296.60" font-size="6.0" font-weight="bold">r</text>
<text class="u" x="488.40" y="298.70" font-size="5.4" font-weight="bold">S</text>
<text class="u" x="493.60" y="297.10" font-size="5.8" font-weight="bold">=</text>
<text class="u" x="500.40" y="296.70" font-size="6.0" font-weight="bold" textLength="15.8" lengthAdjust="spacingAndGlyphs">-0.369</text>
<text class="t" x="486.25" y="305.20" font-size="5.2" font-weight="bold" textLength="6.1" lengthAdjust="spacingAndGlyphs">***</text>
<text x="624.9" y="34.60" font-size="9.7" fill="#000">Horizon</text>
<line x1="630" y1="40.20" x2="630" y2="48.20" stroke="#707070" stroke-width="0.6" transform="translate(0 0.30)"/>
<rect x="626.2" y="41.90" width="7.6" height="4.6" fill="#ffffff" stroke="#707070" stroke-width="0.6" transform="translate(0 0.30)"/>
<line x1="626.2" y1="44.20" x2="633.8" y2="44.20" stroke="#707070" stroke-width="0.6" transform="translate(0 0.30)"/>
<text x="638.9" y="46.70" font-size="7.0" fill="#1a1a1a">0 present-day</text>
<line x1="630" y1="51.20" x2="630" y2="59.20" stroke="#707070" stroke-width="0.6" transform="translate(0 0.30)"/>
<rect x="626.2" y="52.90" width="7.6" height="4.6" fill="#d3d3d3" stroke="#707070" stroke-width="0.6" transform="translate(0 0.30)"/>
<line x1="626.2" y1="55.20" x2="633.8" y2="55.20" stroke="#707070" stroke-width="0.6" transform="translate(0 0.30)"/>
<text x="638.9" y="57.70" font-size="7.0" fill="#1a1a1a">5.9 ky B.P.</text>
<line x1="630" y1="62.20" x2="630" y2="70.20" stroke="#707070" stroke-width="0.6" transform="translate(0 0.30)"/>
<rect x="626.2" y="63.90" width="7.6" height="4.6" fill="#4d4d4d" stroke="#707070" stroke-width="0.6" transform="translate(0 0.30)"/>
<line x1="626.2" y1="66.20" x2="633.8" y2="66.20" stroke="#707070" stroke-width="0.6" transform="translate(0 0.30)"/>
<text x="638.9" y="68.70" font-size="7.0" fill="#1a1a1a">7.6 ky B.P.</text>
<text x="624.9" y="193.40" font-size="9.7" fill="#000">Horizon</text>
<line x1="630" y1="199.00" x2="630" y2="207.00" stroke="#707070" stroke-width="0.6" transform="translate(0 0.30)"/>
<rect x="626.2" y="200.70" width="7.6" height="4.6" fill="#ffffff" stroke="#707070" stroke-width="0.6" transform="translate(0 0.30)"/>
<line x1="626.2" y1="203.00" x2="633.8" y2="203.00" stroke="#707070" stroke-width="0.6" transform="translate(0 0.30)"/>
<text x="638.9" y="205.50" font-size="7.0" fill="#1a1a1a">0 present-day</text>
<line x1="630" y1="210.00" x2="630" y2="218.00" stroke="#707070" stroke-width="0.6" transform="translate(0 0.30)"/>
<rect x="626.2" y="211.70" width="7.6" height="4.6" fill="#d3d3d3" stroke="#707070" stroke-width="0.6" transform="translate(0 0.30)"/>
<line x1="626.2" y1="214.00" x2="633.8" y2="214.00" stroke="#707070" stroke-width="0.6" transform="translate(0 0.30)"/>
<text x="638.9" y="216.50" font-size="7.0" fill="#1a1a1a">5.9 ky B.P.</text>
<line x1="630" y1="221.00" x2="630" y2="229.00" stroke="#707070" stroke-width="0.6" transform="translate(0 0.30)"/>
<rect x="626.2" y="222.70" width="7.6" height="4.6" fill="#4d4d4d" stroke="#707070" stroke-width="0.6" transform="translate(0 0.30)"/>
<line x1="626.2" y1="225.00" x2="633.8" y2="225.00" stroke="#707070" stroke-width="0.6" transform="translate(0 0.30)"/>
<text x="638.9" y="227.50" font-size="7.0" fill="#1a1a1a">7.6 ky B.P.</text>
</svg></body></html>
